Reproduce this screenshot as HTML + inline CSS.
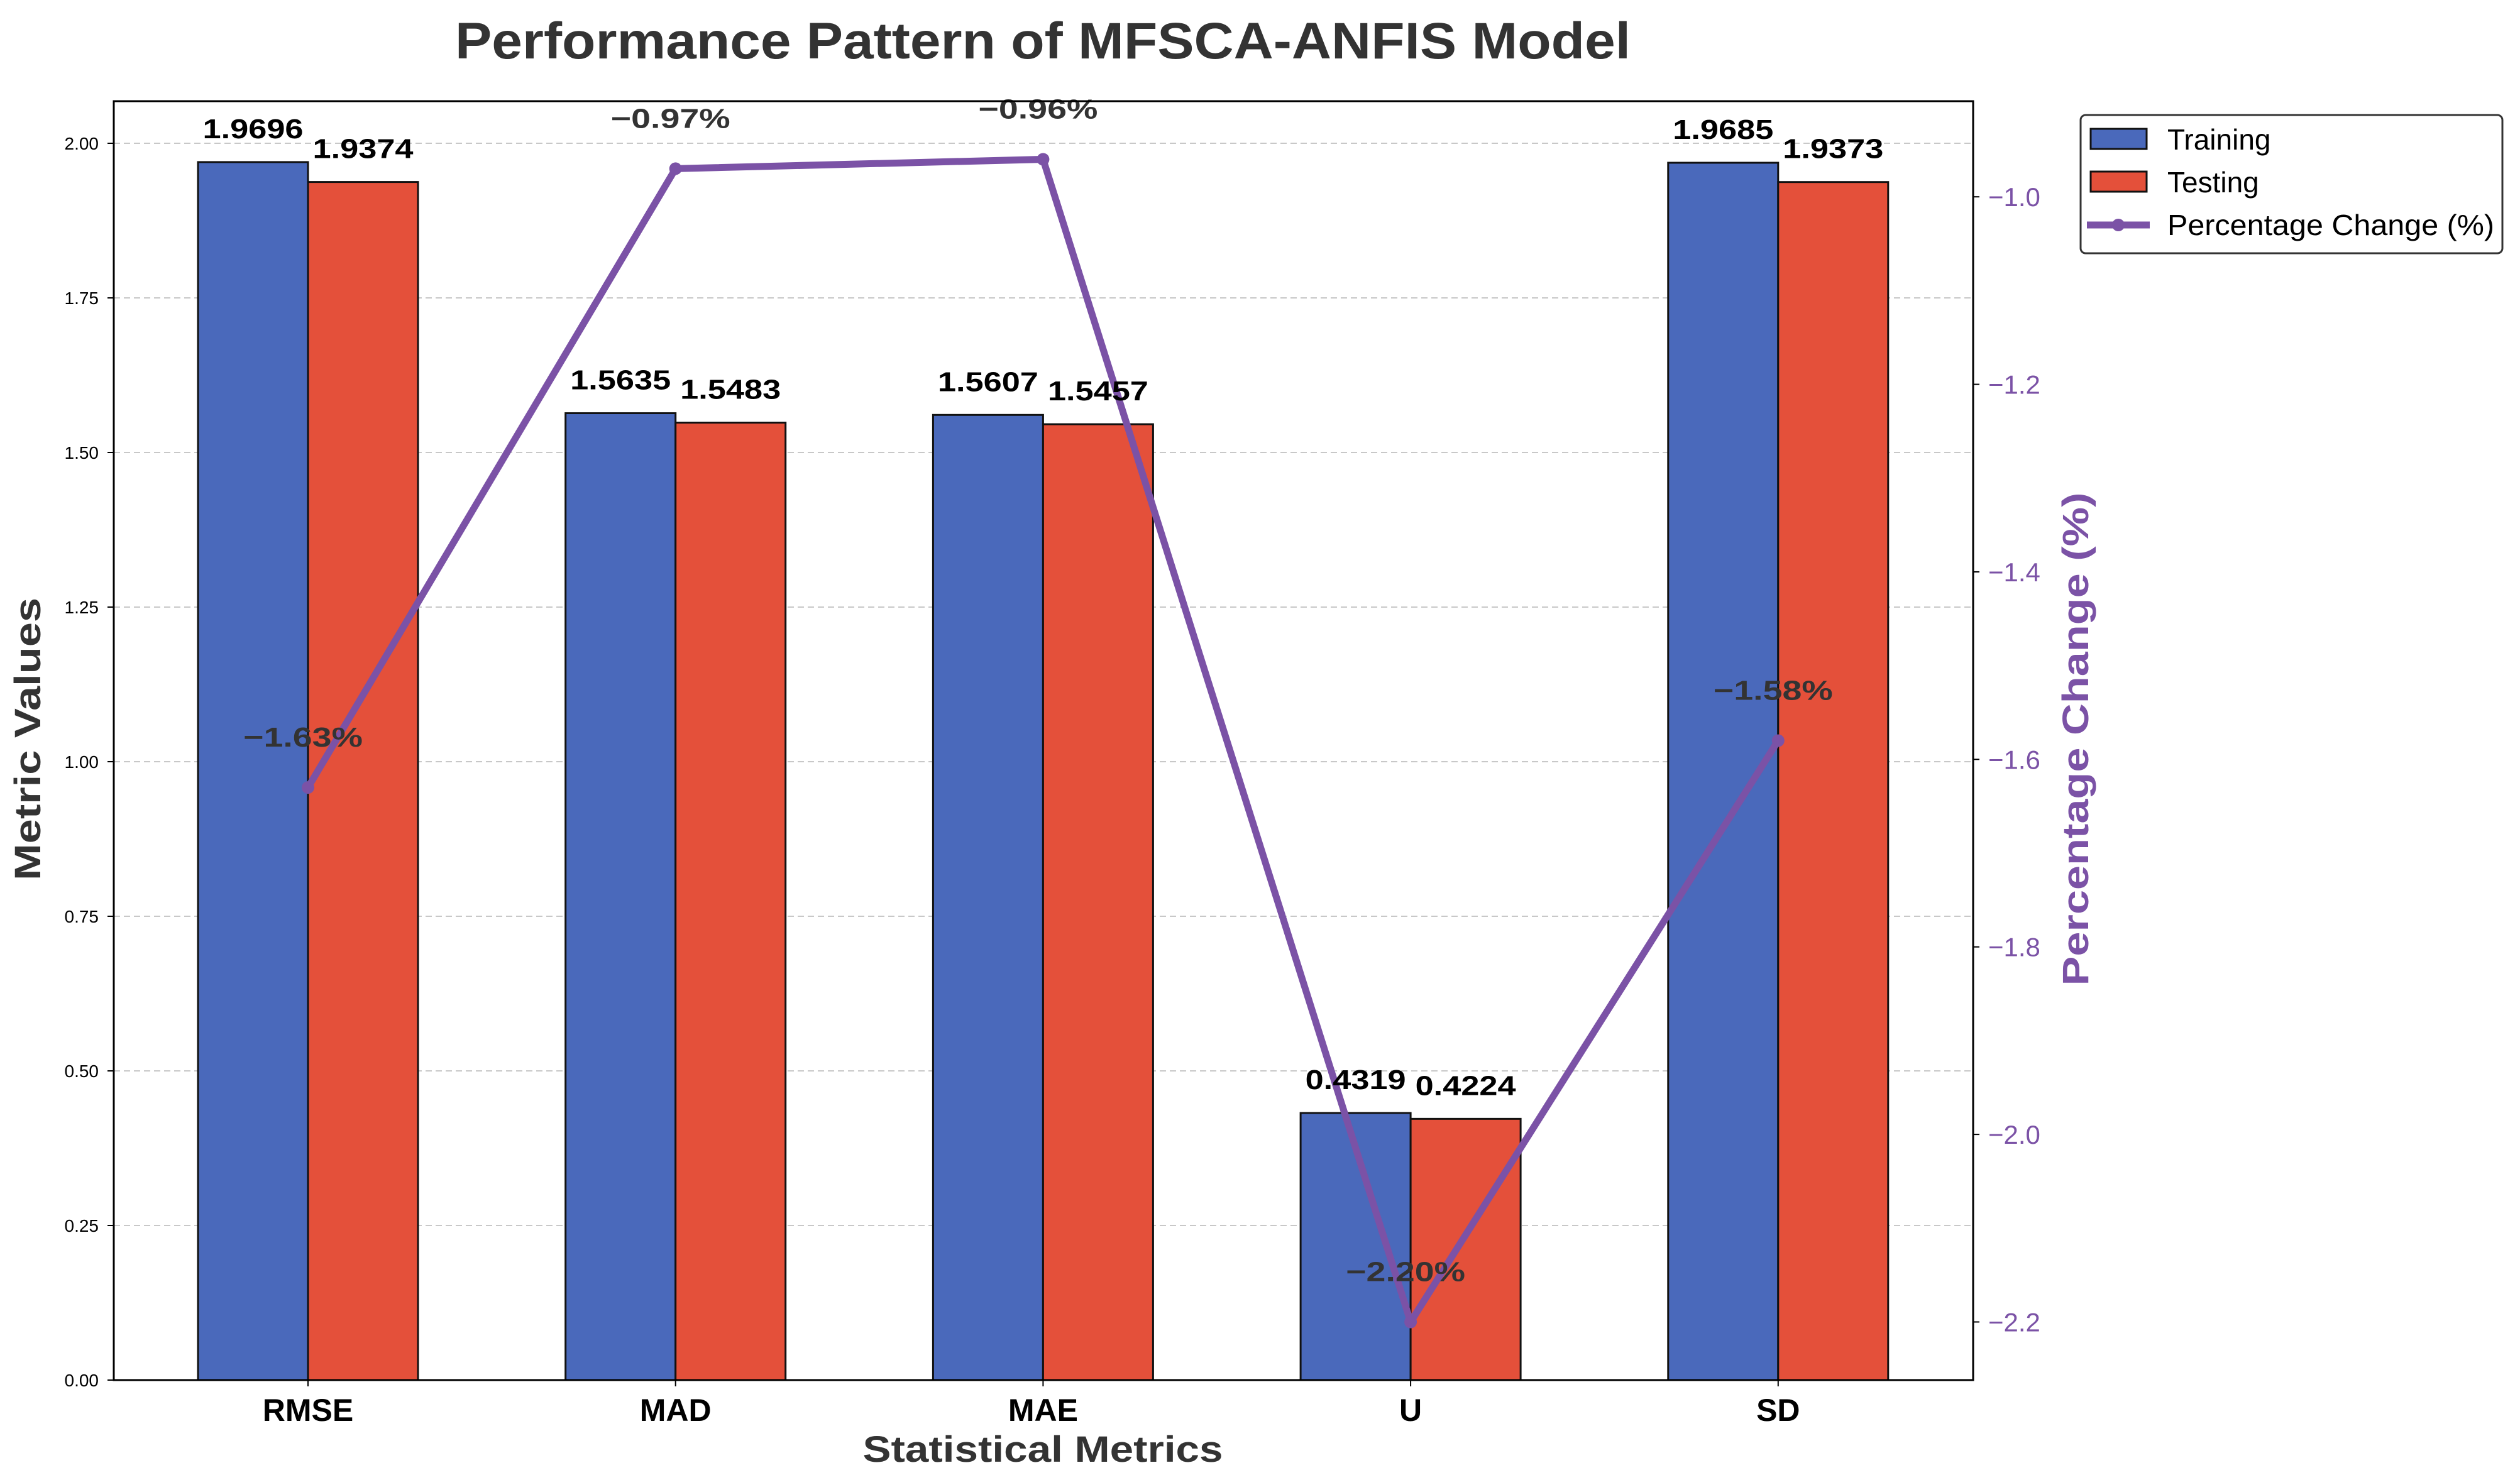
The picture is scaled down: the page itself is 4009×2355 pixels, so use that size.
<!DOCTYPE html>
<html><head><meta charset="utf-8"><style>
html,body{margin:0;padding:0;background:#fff;}
svg{display:block;font-family:"Liberation Sans","DejaVu Sans",sans-serif;}
</style></head><body>
<svg id="chart" width="4009" height="2355" viewBox="0 0 4009 2355" xmlns="http://www.w3.org/2000/svg">
<rect width="4009" height="2355" fill="#fff"/>
<g id="grid"></g>
<g id="bars"></g>
<g id="line"></g>
<g id="labels"></g>
<g id="axes"></g>
</svg>
<script>
const categories = ["RMSE","MAD","MAE","U","SD"];
const training = [1.9696,1.5635,1.5607,0.4319,1.9685];
const testing = [1.9374,1.5483,1.5457,0.4224,1.9373];
const pctChange = [-1.63,-0.97,-0.96,-2.20,-1.58];
const leftTicks = [0,0.25,0.5,0.75,1.0,1.25,1.5,1.75,2.0];
const rightTicks = [-1.0,-1.2,-1.4,-1.6,-1.8,-2.0,-2.2];

const NS="http://www.w3.org/2000/svg";
const L=181,R=3139,T=161,B=2196;
const yMax=Math.max(...training,...testing)*1.05;
const pMin=Math.min(...pctChange), pMax=Math.max(...pctChange), pPad=(pMax-pMin)*0.05;
const yL=v=>B-(v/yMax)*(B-T);
const yR=v=>B-((v-(pMin-pPad))/((pMax+pPad)-(pMin-pPad)))*(B-T);
const xC=i=>490+i*584.7;
const bw=175;
function el(tag,attrs,parent,text){const e=document.createElementNS(NS,tag);for(const k in attrs)e.setAttribute(k,attrs[k]);if(text!==undefined)e.textContent=text;parent.appendChild(e);return e;}
const gGrid=document.getElementById('grid'),gBars=document.getElementById('bars'),gLine=document.getElementById('line'),gLab=document.getElementById('labels'),gAx=document.getElementById('axes'),svg=document.getElementById('chart');

let t=el('text',{x:1659,y:93,'text-anchor':'middle','font-size':82,'font-weight':'bold',fill:'#333',textLength:1870,lengthAdjust:'spacingAndGlyphs'},svg,'Performance Pattern of MFSCA-ANFIS Model');



leftTicks.forEach(v=>{
  const y=yL(v);
  let g=el('line',{x1:L,x2:R,y1:y,y2:y,stroke:'#c8c8c8','stroke-width':2,'stroke-dasharray':'10 6'},gGrid);
  
  
  el('line',{x1:L-10,x2:L,y1:y,y2:y,stroke:'#000','stroke-width':2},gAx);
  let tx=el('text',{x:157,y:y+10,'text-anchor':'end','font-size':28,fill:'#000'},gAx,v.toFixed(2));
  
  
});
rightTicks.forEach(v=>{
  const y=yR(v);
  el('line',{x1:R,x2:R+10,y1:y,y2:y,stroke:'#000','stroke-width':2},gAx);
  let tx=el('text',{x:R+24,y:y+15,'font-size':42,fill:'#7b52a6'},gAx,'\u2212'+Math.abs(v).toFixed(1));
  
  
});
categories.forEach((c,i)=>{
  const x=xC(i);
  let b1=el('rect',{x:x-bw,y:yL(training[i]),width:bw,height:B-yL(training[i]),fill:'#4a69bb',stroke:'#111','stroke-width':3},gBars);
  
  
  let b2=el('rect',{x:x,y:yL(testing[i]),width:bw,height:B-yL(testing[i]),fill:'#e4503a',stroke:'#111','stroke-width':3},gBars);
  
  
  let l1=el('text',{x:x-bw/2,y:yL(training[i])-38,'text-anchor':'middle','font-size':44,'font-weight':'bold',fill:'#000',textLength:160,lengthAdjust:'spacingAndGlyphs'},gLab,training[i].toFixed(4));
  
  
  let l2=el('text',{x:x+bw/2,y:yL(testing[i])-38,'text-anchor':'middle','font-size':44,'font-weight':'bold',fill:'#000',textLength:160,lengthAdjust:'spacingAndGlyphs'},gLab,testing[i].toFixed(4));
  
  
  el('line',{x1:x,x2:x,y1:B,y2:B+10,stroke:'#000','stroke-width':2},gAx);
  let cl=el('text',{x:x,y:B+65,'text-anchor':'middle','font-size':50,'font-weight':'bold',fill:'#000'},gAx,c);
  
  
});
const pts=pctChange.map((v,i)=>xC(i)+','+yR(v)).join(' ');
let pl=el('polyline',{points:pts,fill:'none',stroke:'#7b52a6','stroke-width':11,'stroke-linejoin':'round'},gLine);


pctChange.forEach((v,i)=>{
  let m=el('circle',{cx:xC(i),cy:yR(v),r:10,fill:'#7b52a6'},gLine);
  
  
  let pt=el('text',{x:xC(i)-8,y:yR(v)-65,'text-anchor':'middle','font-size':44,'font-weight':'bold',fill:'#333',textLength:190,lengthAdjust:'spacingAndGlyphs'},gLab,'\u2212'+Math.abs(v).toFixed(2)+'%');
  
  
});
let fr=el('rect',{x:L,y:T,width:R-L,height:B-T,fill:'none',stroke:'#000','stroke-width':3},gAx);


let yt=el('text',{x:0,y:0,transform:'translate(64,1176) rotate(-90)','text-anchor':'middle','font-size':58,'font-weight':'bold',fill:'#333',textLength:450,lengthAdjust:'spacingAndGlyphs'},gAx,'Metric Values');


let xt=el('text',{x:1659,y:2326,'text-anchor':'middle','font-size':58,'font-weight':'bold',fill:'#333',textLength:573,lengthAdjust:'spacingAndGlyphs'},gAx,'Statistical Metrics');


let rt=el('text',{x:0,y:0,transform:'translate(3322,1176) rotate(-90)','text-anchor':'middle','font-size':58,'font-weight':'bold',fill:'#7b52a6',textLength:785,lengthAdjust:'spacingAndGlyphs'},gAx,'Percentage Change (%)');


const lg=el('g',{},svg);


el('rect',{x:3310,y:183,width:671,height:220,rx:8,fill:'#fff',stroke:'#333','stroke-width':3},lg);
let e1=el('rect',{x:3326,y:205,width:89,height:32,fill:'#4a69bb',stroke:'#111','stroke-width':3},lg);


el('text',{x:3448,y:238,'font-size':46,fill:'#000'},lg,'Training');
let e2=el('rect',{x:3326,y:273,width:89,height:32,fill:'#e4503a',stroke:'#111','stroke-width':3},lg);


el('text',{x:3448,y:306,'font-size':46,fill:'#000'},lg,'Testing');
let e3=el('line',{x1:3320,x2:3420,y1:358,y2:358,stroke:'#7b52a6','stroke-width':11},lg);


el('circle',{cx:3370,cy:358,r:10,fill:'#7b52a6'},lg);
el('text',{x:3448,y:374,'font-size':46,fill:'#000',textLength:520,lengthAdjust:'spacingAndGlyphs'},lg,'Percentage Change (%)');
</script>
</body></html>
